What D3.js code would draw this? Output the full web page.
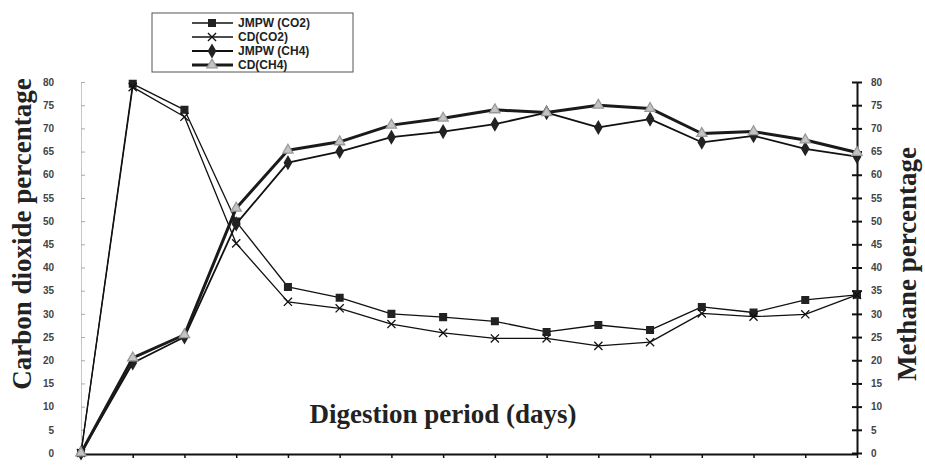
<!DOCTYPE html>
<html>
<head>
<meta charset="utf-8">
<script src="https://cdn.jsdelivr.net/npm/d3@7"></script>
<style>
  body { margin: 0; background: #fff; }
  svg { display: block; }
</style>
</head>
<body>
<div id="chart"></div>
<script>
// days of digestion (x axis has no labels, one tick per reading)
var days = [0,1,2,3,4,5,6,7,8,9,10,11,12,13,14,15]
var jmpwCO2 = [0,79.6,74.0,49.9,35.8,33.5,30.0,29.3,28.4,26.1,27.6,26.5,31.5,30.3,33.0,34.1]
var cdCO2   = [0,78.9,72.5,45.2,32.6,31.2,27.8,25.9,24.7,24.7,23.1,23.9,30.1,29.4,29.9,34.1]
var jmpwCH4 = [0,19.4,25.0,49.4,62.6,65.0,68.1,69.3,70.9,73.4,70.2,72.0,67.0,68.4,65.6,63.9]
var cdCH4   = [0,20.5,25.5,52.8,65.3,67.1,70.7,72.2,74.0,73.4,75.0,74.3,68.9,69.3,67.5,64.8]
var yTicks = [0,5,10,15,20,25,30,35,40,45,50,55,60,65,70,75,80]
var seriesNames = ["JMPW (CO2)", "CD(CO2)", "JMPW (CH4)", "CD(CH4)"]

var width = 925
var height = 465

var svg = d3.select("#chart")
  .append("svg")
    .attr("width", width)
    .attr("height", height)

var x = d3.scaleLinear().domain([0, 15]).range([81, 857])
var yLeft = d3.scaleLinear().domain([0, 80]).range([453, 82])
var yRight = d3.scaleLinear().domain([0, 80]).range([453, 82])

var symX = d3.symbolTimes || d3.symbolX

var series = [
  {name: seriesNames[0], values: jmpwCO2, y: yLeft,  stroke: "#111", width: 1.3, sym: d3.symbolSquare,   size: 45, fill: "#222", mstroke: "#222"},
  {name: seriesNames[1], values: cdCO2,   y: yLeft,  stroke: "#111", width: 1.3, sym: symX,             size: 45, fill: "none", mstroke: "#111"},
  {name: seriesNames[2], values: jmpwCH4, y: yRight, stroke: "#111", width: 1.8, sym: d3.symbolDiamond,  size: 45, fill: "#222", mstroke: "#222"},
  {name: seriesNames[3], values: cdCH4,   y: yRight, stroke: "#1a1a1a", width: 3, sym: d3.symbolTriangle, size: 45, fill: "#c4c4c4", mstroke: "#999"}
]

// left axis (faint in the original)
var leftAxis = svg.append("g")
  .attr("transform", "translate(81,0)")
  .call(d3.axisLeft(yLeft).tickValues(yTicks).tickSize(4).tickSizeOuter(0))
leftAxis.select(".domain").attr("stroke", "#c8c8c8").attr("stroke-width", 1)
leftAxis.selectAll(".tick line").attr("stroke", "#aaa").attr("x2", 4)
leftAxis.selectAll(".tick text")
  .attr("x", -27)
  .style("font-family", "Arial, 'Liberation Sans', sans-serif")
  .style("font-size", "10px")
  .style("font-weight", "bold")
  .attr("fill", "#444")

// right axis, drawn with cross ticks
var rightAxis = svg.append("g")
  .attr("transform", "translate(857,0)")
  .call(d3.axisRight(yRight).tickValues(yTicks).tickSize(5).tickSizeOuter(0))
rightAxis.select(".domain").attr("stroke", "#111").attr("stroke-width", 2)
rightAxis.selectAll(".tick line").attr("stroke", "#111").attr("stroke-width", 2).attr("x1", -5)
rightAxis.selectAll(".tick text")
  .attr("x", 14)
  .style("font-family", "Arial, 'Liberation Sans', sans-serif")
  .style("font-size", "10px")
  .style("font-weight", "bold")
  .attr("fill", "#444")

// bottom axis
var bottomAxis = svg.append("g")
  .attr("transform", "translate(0,454)")
  .call(d3.axisBottom(x).tickValues(days).tickSize(4).tickSizeOuter(0).tickFormat(""))
bottomAxis.select(".domain").attr("stroke", "#111").attr("stroke-width", 2)
bottomAxis.selectAll(".tick line").attr("stroke", "#111").attr("stroke-width", 1.5)

// lines + markers
series.forEach(function(s) {
  var line = d3.line()
    .x(function(d, i) { return x(days[i]) })
    .y(function(d) { return s.y(d) })

  svg.append("path")
    .datum(s.values)
    .attr("d", line)
    .attr("fill", "none")
    .attr("stroke", s.stroke)
    .attr("stroke-width", s.width)
    .attr("stroke-linejoin", "round")

  svg.selectAll(null)
    .data(s.values)
    .enter()
    .append("path")
      .attr("d", d3.symbol().type(s.sym).size(s.size))
      .attr("transform", function(d, i) { return "translate(" + x(days[i]) + "," + s.y(d) + ")" })
      .attr("fill", s.fill)
      .attr("stroke", s.mstroke)
      .attr("stroke-width", 1.3)
})

// axis titles
var titleFont = "'Liberation Serif', 'Times New Roman', serif"

svg.append("text")
  .attr("transform", "translate(31,234) rotate(-90)")
  .attr("text-anchor", "middle")
  .style("font-family", titleFont)
  .style("font-size", "27px")
  .style("font-weight", "bold")
  .attr("fill", "#222")
  .text("Carbon dioxide percentage")

svg.append("text")
  .attr("transform", "translate(916,264) rotate(-90)")
  .attr("text-anchor", "middle")
  .style("font-family", titleFont)
  .style("font-size", "27px")
  .style("font-weight", "bold")
  .attr("fill", "#222")
  .text("Methane percentage")

svg.append("text")
  .attr("x", 443)
  .attr("y", 423)
  .attr("text-anchor", "middle")
  .style("font-family", titleFont)
  .style("font-size", "27px")
  .style("font-weight", "bold")
  .attr("fill", "#222")
  .text("Digestion period (days)")

// legend
var legend = svg.append("g")
legend.append("rect")
  .attr("x", 152).attr("y", 13)
  .attr("width", 201).attr("height", 59)
  .attr("fill", "#fff")
  .attr("stroke", "#555")
  .attr("stroke-width", 1)

var legItem = legend.selectAll(".leg")
  .data(series)
  .enter()
  .append("g")
    .attr("transform", function(d, i) { return "translate(0," + (23 + i * 14) + ")" })

legItem.append("line")
  .attr("x1", 192).attr("x2", 233)
  .attr("stroke", function(d) { return d.stroke })
  .attr("stroke-width", function(d) { return d.width })

legItem.append("path")
  .attr("d", function(d) { return d3.symbol().type(d.sym).size(d.size)() })
  .attr("transform", "translate(212,0)")
  .attr("fill", function(d) { return d.fill })
  .attr("stroke", function(d) { return d.mstroke })
  .attr("stroke-width", 1.3)

legItem.append("text")
  .attr("x", 238)
  .attr("dy", "0.35em")
  .style("font-family", "Arial, 'Liberation Sans', sans-serif")
  .style("font-size", "12px")
  .style("font-weight", "bold")
  .attr("fill", "#222")
  .text(function(d) { return d.name })
</script>
</body>
</html>
